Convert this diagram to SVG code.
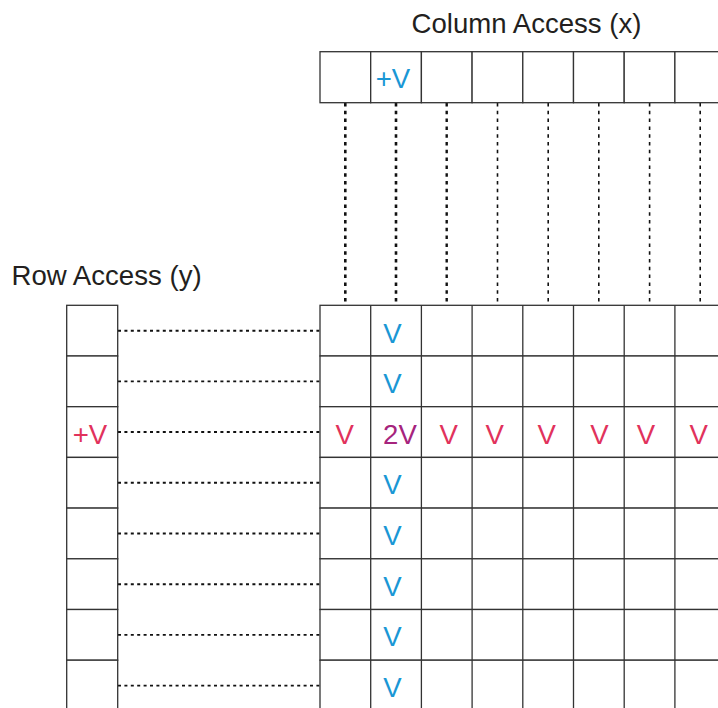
<svg xmlns="http://www.w3.org/2000/svg" width="718" height="708" viewBox="0 0 718 708">
<style>
.cell{fill:#fff;stroke:#333;stroke-width:1.3}
.t{font-family:"Liberation Sans",Arial,sans-serif;font-size:27.6px;text-anchor:middle}
.title{font-family:"Liberation Sans",Arial,sans-serif;font-size:27.6px;fill:#231f20}
.b{fill:#1a97d5}
.r{fill:#e1325c}
.p{fill:#a6247d}
.vd{stroke:#111;stroke-dasharray:3.5 4.3;fill:none}
.hd{stroke:#111;stroke-width:1.9;stroke-dasharray:3 3.4;fill:none}
</style>
<rect width="718" height="708" fill="#fff"/>
<text class="title" x="411.5" y="33">Column Access (x)</text>
<text class="title" x="11.5" y="285">Row Access (y)</text>

<g id="connectors">
<line class="vd" x1="345.3" y1="103" x2="345.3" y2="305" stroke-width="2.6"/>
<line class="vd" x1="396" y1="103" x2="396" y2="305" stroke-width="2.6"/>
<line class="vd" x1="446.7" y1="103" x2="446.7" y2="305" stroke-width="2.4"/>
<line class="vd" x1="497.5" y1="103" x2="497.5" y2="305" stroke-width="1.6"/>
<line class="vd" x1="548.2" y1="103" x2="548.2" y2="305" stroke-width="1.6"/>
<line class="vd" x1="598.8" y1="103" x2="598.8" y2="305" stroke-width="1.6"/>
<line class="vd" x1="649.6" y1="103" x2="649.6" y2="305" stroke-width="1.6"/>
<line class="vd" x1="700.2" y1="103" x2="700.2" y2="305" stroke-width="1.6"/>
<line class="hd" x1="118" y1="330.7" x2="320" y2="330.7"/>
<line class="hd" x1="118" y1="381.4" x2="320" y2="381.4"/>
<line class="hd" x1="118" y1="432" x2="320" y2="432"/>
<line class="hd" x1="118" y1="482.8" x2="320" y2="482.8"/>
<line class="hd" x1="118" y1="533.5" x2="320" y2="533.5"/>
<line class="hd" x1="118" y1="584.2" x2="320" y2="584.2"/>
<line class="hd" x1="118" y1="634.9" x2="320" y2="634.9"/>
<line class="hd" x1="118" y1="685.6" x2="320" y2="685.6"/>
</g>

<!-- Column access cells -->
<g id="col-0"><rect class="cell" x="320" y="51.7" width="50.7" height="51"/></g>
<g id="col-1"><rect class="cell" x="370.7" y="51.7" width="50.7" height="51"/><text class="t b" x="393" y="88">+V</text></g>
<g id="col-2"><rect class="cell" x="421.4" y="51.7" width="50.7" height="51"/></g>
<g id="col-3"><rect class="cell" x="472.1" y="51.7" width="50.7" height="51"/></g>
<g id="col-4"><rect class="cell" x="522.8" y="51.7" width="50.7" height="51"/></g>
<g id="col-5"><rect class="cell" x="573.5" y="51.7" width="50.7" height="51"/></g>
<g id="col-6"><rect class="cell" x="624.2" y="51.7" width="50.7" height="51"/></g>
<g id="col-7"><rect class="cell" x="674.9" y="51.7" width="50.7" height="51"/></g>

<!-- Row access cells -->
<g id="row-0"><rect class="cell" x="66.7" y="305.3" width="51" height="50.7"/></g>
<g id="row-1"><rect class="cell" x="66.7" y="356" width="51" height="50.7"/></g>
<g id="row-2"><rect class="cell" x="66.7" y="406.7" width="51" height="50.7"/><text class="t r" x="90" y="443.5">+V</text></g>
<g id="row-3"><rect class="cell" x="66.7" y="457.4" width="51" height="50.7"/></g>
<g id="row-4"><rect class="cell" x="66.7" y="508.1" width="51" height="50.7"/></g>
<g id="row-5"><rect class="cell" x="66.7" y="558.8" width="51" height="50.7"/></g>
<g id="row-6"><rect class="cell" x="66.7" y="609.5" width="51" height="50.7"/></g>
<g id="row-7"><rect class="cell" x="66.7" y="660.2" width="51" height="50.7"/></g>

<!-- Memory array -->
<g id="array">
<g id="cell-r0"><rect class="cell" x="320" y="305.3" width="405.6" height="50.7"/></g>
<g id="cell-r1"><rect class="cell" x="320" y="356" width="405.6" height="50.7"/></g>
<g id="cell-r2"><rect class="cell" x="320" y="406.7" width="405.6" height="50.7"/></g>
<g id="cell-r3"><rect class="cell" x="320" y="457.4" width="405.6" height="50.7"/></g>
<g id="cell-r4"><rect class="cell" x="320" y="508.1" width="405.6" height="50.7"/></g>
<g id="cell-r5"><rect class="cell" x="320" y="558.8" width="405.6" height="50.7"/></g>
<g id="cell-r6"><rect class="cell" x="320" y="609.5" width="405.6" height="50.7"/></g>
<g id="cell-r7"><rect class="cell" x="320" y="660.2" width="405.6" height="50.7"/></g>
<g id="array-cols" stroke="#333" stroke-width="1.3">
<line x1="370.7" y1="305.3" x2="370.7" y2="710.9"/>
<line x1="421.4" y1="305.3" x2="421.4" y2="710.9"/>
<line x1="472.1" y1="305.3" x2="472.1" y2="710.9"/>
<line x1="522.8" y1="305.3" x2="522.8" y2="710.9"/>
<line x1="573.5" y1="305.3" x2="573.5" y2="710.9"/>
<line x1="624.2" y1="305.3" x2="624.2" y2="710.9"/>
<line x1="674.9" y1="305.3" x2="674.9" y2="710.9"/>
</g>
</g>

<g id="array-labels">
<text class="t b" x="392.5" y="342.5">V</text>
<text class="t b" x="392.5" y="393">V</text>
<text class="t b" x="392.5" y="494">V</text>
<text class="t b" x="392.5" y="544.5">V</text>
<text class="t b" x="392.5" y="595.5">V</text>
<text class="t b" x="392.5" y="646">V</text>
<text class="t b" x="392.5" y="697">V</text>
<text class="t r" x="344.7" y="443.5">V</text>
<text class="t p" x="400" y="443.5">2V</text>
<text class="t r" x="448.7" y="443.5">V</text>
<text class="t r" x="494.7" y="443.5">V</text>
<text class="t r" x="546.8" y="443.5">V</text>
<text class="t r" x="599.5" y="443.5">V</text>
<text class="t r" x="646" y="443.5">V</text>
<text class="t r" x="698.8" y="443.5">V</text>
</g>
</svg>
